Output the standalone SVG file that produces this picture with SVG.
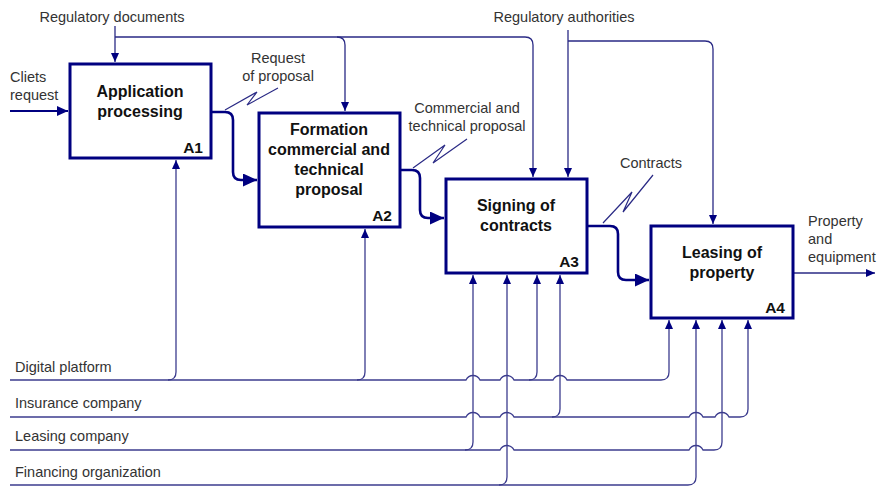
<svg xmlns="http://www.w3.org/2000/svg" width="877" height="486" viewBox="0 0 877 486">
<style>
.bg{fill:#ffffff}
.box{fill:#ffffff;stroke:#000080;stroke-width:3}
.title{font-family:"Liberation Sans",Arial,sans-serif;font-size:16px;font-weight:bold;fill:#111;text-anchor:middle}
.num{font-family:"Liberation Sans",Arial,sans-serif;font-size:15.5px;font-weight:bold;fill:#111;text-anchor:end}
.lbl{font-family:"Liberation Sans",Arial,sans-serif;font-size:14.5px;fill:#333}
.mid{text-anchor:middle}
.thin{fill:none;stroke:#2a2a85;stroke-width:1.3}
.mech{fill:none;stroke:#3c3c8e;stroke-width:1.3}
.thick{fill:none;stroke:#000080;stroke-width:2.6}
.med{fill:none;stroke:#000080;stroke-width:2}
.sq{fill:none;stroke:#2a2a85;stroke-width:1.2}
</style>
<defs>
<marker id="as" markerUnits="userSpaceOnUse" markerWidth="9" markerHeight="8" refX="9" refY="4" orient="auto"><path d="M0,0 L9,4 L0,8 z" fill="#000080"/></marker>
<marker id="am" markerUnits="userSpaceOnUse" markerWidth="11" markerHeight="10" refX="11" refY="5" orient="auto"><path d="M0,0 L11,5 L0,10 z" fill="#000080"/></marker>
<marker id="al" markerUnits="userSpaceOnUse" markerWidth="14" markerHeight="13" refX="14" refY="6.5" orient="auto"><path d="M0,0 L14,6.5 L0,13 z" fill="#000080"/></marker>
</defs>
<rect class="bg" x="0" y="0" width="877" height="486"/>

<g id="connectors">
<!-- controls -->
<path class="thin" d="M115 26 V62" marker-end="url(#as)"/>
<path class="thin" d="M115 37 H525 Q533 37 533 45 V177" marker-end="url(#as)"/>
<path class="thin" d="M337 37 Q345 37 345 45 V111" marker-end="url(#as)"/>
<path class="thin" d="M568 30 V177" marker-end="url(#as)"/>
<path class="thin" d="M568 41 H705 Q713 41 713 49 V224" marker-end="url(#as)"/>
<!-- input / output -->
<path class="med" d="M10 111 H68" marker-end="url(#am)"/>
<path class="thin" d="M793 273 H875" marker-end="url(#as)"/>
<!-- flows -->
<path class="thick" d="M212 112 H225 Q233 112 233 120 V172 Q233 180 241 180 H257" marker-end="url(#al)"/>
<path class="thick" d="M400 170 H412 Q420 170 420 178 V210 Q420 218 428 218 H444" marker-end="url(#al)"/>
<path class="thick" d="M587 226 H610 Q618 226 618 234 V272 Q618 280 626 280 H649" marker-end="url(#al)"/>
<!-- squiggles -->
<path class="sq" d="M225 110 L257 92 L247 105 L278 88"/>
<path class="sq" d="M413 168 L445 145 L433 163 L467 139"/>
<path class="sq" d="M603 223 L632 192 L623 212 L653 175"/>
<!-- mechanisms: Digital platform -->
<path class="mech" d="M10 380 H466 C469 374 477 374 480 380 H500 C503 374 511 374 514 380 H553 C556 374 564 374 567 380 H661 Q669 380 669 372 V320" marker-end="url(#as)"/>
<path class="mech" d="M168 380 Q176 380 176 372 V160" marker-end="url(#as)"/>
<path class="mech" d="M357 380 Q365 380 365 372 V229" marker-end="url(#as)"/>
<path class="mech" d="M529 380 Q537 380 537 372 V275" marker-end="url(#as)"/>
<!-- Insurance company -->
<path class="mech" d="M10 417 H466 C469 411 477 411 480 417 H500 C503 411 511 411 514 417 H689 C692 411 700 411 703 417 H715 C718 411 726 411 729 417 H740 Q748 417 748 409 V320" marker-end="url(#as)"/>
<path class="mech" d="M552 417 Q560 417 560 409 V275" marker-end="url(#as)"/>
<!-- Leasing company -->
<path class="mech" d="M10 450 H500 C503 444 511 444 514 450 H689 C692 444 700 444 703 450 H714 Q722 450 722 442 V320" marker-end="url(#as)"/>
<path class="mech" d="M465 450 Q473 450 473 442 V275" marker-end="url(#as)"/>
<!-- Financing organization -->
<path class="mech" d="M10 485 H688 Q696 485 696 477 V320" marker-end="url(#as)"/>
<path class="mech" d="M499 485 Q507 485 507 477 V275" marker-end="url(#as)"/>
</g>

<g id="A1">
<rect class="box" x="70" y="64" width="141" height="94"/>
<text class="title" x="140" y="97">Application</text>
<text class="title" x="140" y="117">processing</text>
<text class="num" x="203" y="153">A1</text>
</g>
<g id="A2">
<rect class="box" x="259" y="113" width="141" height="114"/>
<text class="title" x="329" y="135">Formation</text>
<text class="title" x="329" y="155">commercial and</text>
<text class="title" x="329" y="175">technical</text>
<text class="title" x="329" y="195">proposal</text>
<text class="num" x="392" y="221">A2</text>
</g>
<g id="A3">
<rect class="box" x="446" y="179" width="141" height="94"/>
<text class="title" x="516" y="211">Signing of</text>
<text class="title" x="516" y="231">contracts</text>
<text class="num" x="579" y="267">A3</text>
</g>
<g id="A4">
<rect class="box" x="651" y="226" width="142" height="92"/>
<text class="title" x="722" y="258">Leasing of</text>
<text class="title" x="722" y="278">property</text>
<text class="num" x="785" y="313">A4</text>
</g>

<g id="labels">
<text class="lbl mid" x="112" y="22">Regulatory documents</text>
<text class="lbl mid" x="564" y="22">Regulatory authorities</text>
<text class="lbl" x="10" y="82">Cliets</text>
<text class="lbl" x="10" y="100">request</text>
<text class="lbl mid" x="278" y="63">Request</text>
<text class="lbl mid" x="278" y="81">of proposal</text>
<text class="lbl mid" x="467" y="113">Commercial and</text>
<text class="lbl mid" x="467" y="131">technical proposal</text>
<text class="lbl mid" x="651" y="168">Contracts</text>
<text class="lbl" x="808" y="226">Property</text>
<text class="lbl" x="808" y="244">and</text>
<text class="lbl" x="808" y="262">equipment</text>
<text class="lbl" x="15" y="372">Digital platform</text>
<text class="lbl" x="15" y="408">Insurance company</text>
<text class="lbl" x="15" y="441">Leasing company</text>
<text class="lbl" x="15" y="477">Financing organization</text>
</g>
</svg>
